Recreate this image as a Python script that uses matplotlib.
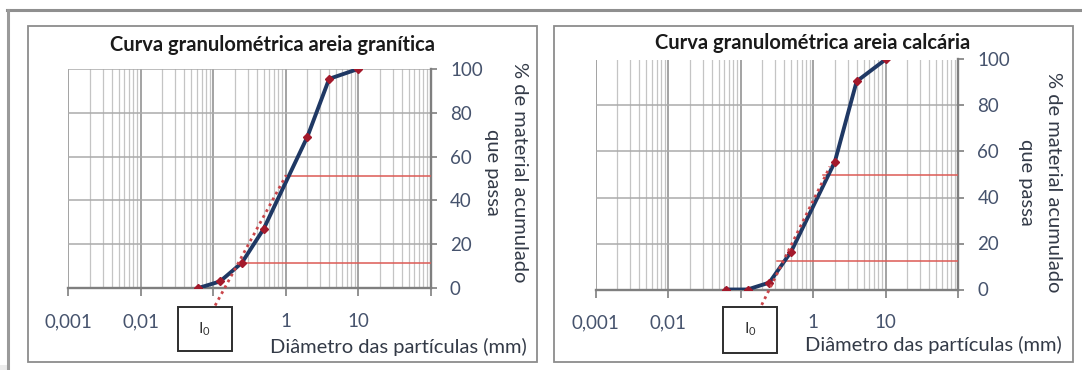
import numpy as np
import matplotlib
matplotlib.use("Agg")
import matplotlib.pyplot as plt
from matplotlib.ticker import LogLocator, NullFormatter, FixedLocator
from matplotlib.patches import Rectangle
from matplotlib.lines import Line2D

plt.rcParams['font.family'] = ['Lato', 'DejaVu Sans']
plt.rcParams['mathtext.fontset'] = 'custom'
plt.rcParams['mathtext.rm'] = 'Lato'

# ---------------- data ----------------
titles = ["Curva granulométrica areia granítica", "Curva granulométrica areia calcária"]
x_major = [0.001, 0.01, 0.1, 1, 10, 100]
x_labels = ["0,001", "0,01", "", "1", "10", ""]
y_ticks = [0, 20, 40, 60, 80, 100]
xlabel_text = "Diâmetro das partículas (mm)"
ylabel_line1 = "% de material acumulado"
ylabel_line2 = "que passa"
box_label = r"$\mathregular{I_0}$"

sieve_gran = [0.063, 0.125, 0.25, 0.5, 2, 4, 10]
pass_gran = [0, 3, 11.5, 27, 69, 95.5, 100]
tangent_gran_x = [0.107, 1.02]
tangent_gran_y = [-8, 51.5]
hline_gran_y = [11.3, 51]
hline_gran_start = [0.26, 1.0]

sieve_calc = [0.063, 0.125, 0.25, 0.5, 2, 4, 10]
pass_calc = [0, 0, 3, 16.5, 55.5, 90.5, 100]
tangent_calc_x = [0.196, 1.71]
tangent_calc_y = [-6.7, 53.4]
hline_calc_y = [12.5, 50]
hline_calc_start = [0.316, 1.39]

# ---------------- figure ----------------
W, H = 1082, 370
fig = plt.figure(figsize=(W / 100, H / 100), dpi=100)
fig.patch.set_facecolor('white')

def fx(px):
    return px / W

def fy(py):
    return 1 - py / H

# screenshot border / shadow
fig.add_artist(Rectangle((0, 0), 1, fy(365), transform=fig.transFigure,
                         facecolor='#ececec', edgecolor='none', zorder=0))
fig.add_artist(Rectangle((fx(8), 0), 1, fy(10), transform=fig.transFigure,
                         facecolor='white', edgecolor='none', zorder=0.5))
fig.add_artist(Line2D([fx(7), 1], [fy(10), fy(10)], transform=fig.transFigure,
                      color='#8f8f8f', lw=2.2, zorder=1))
fig.add_artist(Line2D([fx(8), fx(8)], [fy(10), 0], transform=fig.transFigure,
                      color='#9a9a9a', lw=2.2, zorder=1))

# panel frames
for x0, x1 in [(28, 537), (554, 1073)]:
    fig.add_artist(Rectangle((fx(x0), fy(362)), fx(x1) - fx(x0), fy(26) - fy(362),
                             transform=fig.transFigure, facecolor='white',
                             edgecolor='#8c8c8c', lw=1.3, zorder=1))

tick_color = '#46536d'
axis_color = '#7f7f7f'
text_color = '#333a47'

def setup(ax):
    ax.set_xscale('log')
    ax.set_xlim(0.001, 100)
    ax.set_ylim(0, 100)
    ax.set_facecolor('none')
    ax.yaxis.tick_right()
    ax.set_yticks(y_ticks)
    ax.xaxis.set_major_locator(FixedLocator(x_major))
    ax.set_xticklabels(x_labels)
    ax.xaxis.set_minor_locator(LogLocator(base=10, subs=np.arange(2, 10), numticks=20))
    ax.xaxis.set_minor_formatter(NullFormatter())
    ax.tick_params(axis='x', which='minor', length=0)
    ax.tick_params(axis='x', which='major', length=6, width=1.2, color=axis_color,
                   direction='out', pad=12, labelsize=13.5, labelcolor=tick_color)
    ax.tick_params(axis='y', which='major', length=4, width=1.2, color=axis_color,
                   direction='out', pad=10, labelsize=13.5, labelcolor=tick_color)
    for s in ['top', 'left']:
        ax.spines[s].set_visible(False)
    for s in ['right', 'bottom']:
        ax.spines[s].set_color(axis_color)
        ax.spines[s].set_linewidth(1.7)
    ax.set_axisbelow(True)
    ax.grid(True, which='minor', axis='x', color='#c4c4c4', lw=0.9)
    ax.grid(True, which='major', axis='x', color='#9c9c9c', lw=1.3)
    ax.grid(True, which='major', axis='y', color='#ababab', lw=1.1)

def draw(ax, sx, sy, tx, ty, hy, hs):
    for yv, xs in zip(hy, hs):
        ax.plot([xs, 100], [yv, yv], color='#dc5a55', lw=1.1, zorder=3)
    ax.plot(sx, sy, color='#1f3864', lw=2.8, zorder=4,
            marker='D', markersize=4.4, markerfacecolor='#a3192b',
            markeredgecolor='#a3192b', solid_joinstyle='round')
    ax.plot(tx, ty, color='#c9454a', lw=2.0, ls=(0, (1, 1.4)), zorder=5,
            clip_on=False)

ax1 = fig.add_axes([fx(68), fy(288), 362.5 / W, 219 / H])
ax2 = fig.add_axes([fx(595.5), fy(289.5), 362.5 / W, 230 / H])
for ax in (ax1, ax2):
    ax.set_zorder(2)
    setup(ax)

draw(ax1, sieve_gran, pass_gran, tangent_gran_x, tangent_gran_y, hline_gran_y, hline_gran_start)
draw(ax2, sieve_calc, pass_calc, tangent_calc_x, tangent_calc_y, hline_calc_y, hline_calc_start)

# titles
fig.text(fx(272), fy(45), titles[0], ha='center', va='center', fontsize=14.5,
         fontweight='bold', color='#1a1a1a', zorder=3)
fig.text(fx(813), fy(43), titles[1], ha='center', va='center', fontsize=14.5,
         fontweight='bold', color='#1a1a1a', zorder=3)

# x labels
fig.text(fx(398), fy(347), xlabel_text, ha='center', va='center', fontsize=14.5,
         color=text_color, zorder=3)
fig.text(fx(933), fy(345), xlabel_text, ha='center', va='center', fontsize=14.5,
         color=text_color, zorder=3)

# y labels (rotated, two lines)
for xa, xb, yc in [(519, 492, 172), (1053, 1027, 182)]:
    fig.text(fx(xa), fy(yc), ylabel_line1, rotation=270, ha='center', va='center',
             fontsize=14.5, color=text_color, zorder=3)
    fig.text(fx(xb), fy(yc), ylabel_line2, rotation=270, ha='center', va='center',
             fontsize=14.5, color=text_color, zorder=3)

# I0 boxes
for x0, x1, y0, y1 in [(177.5, 232, 306.7, 351), (722.7, 777.3, 306.7, 352.5)]:
    fig.add_artist(Rectangle((fx(x0), fy(y1)), fx(x1) - fx(x0), fy(y0) - fy(y1),
                             transform=fig.transFigure, facecolor='white',
                             edgecolor='#2e2e2e', lw=1.4, zorder=3))
    fig.text(fx((x0 + x1) / 2), fy((y0 + y1) / 2), box_label, ha='center',
             va='center', fontsize=11.5, color='#333333', zorder=4)

fig.savefig('out.png', dpi=100)
